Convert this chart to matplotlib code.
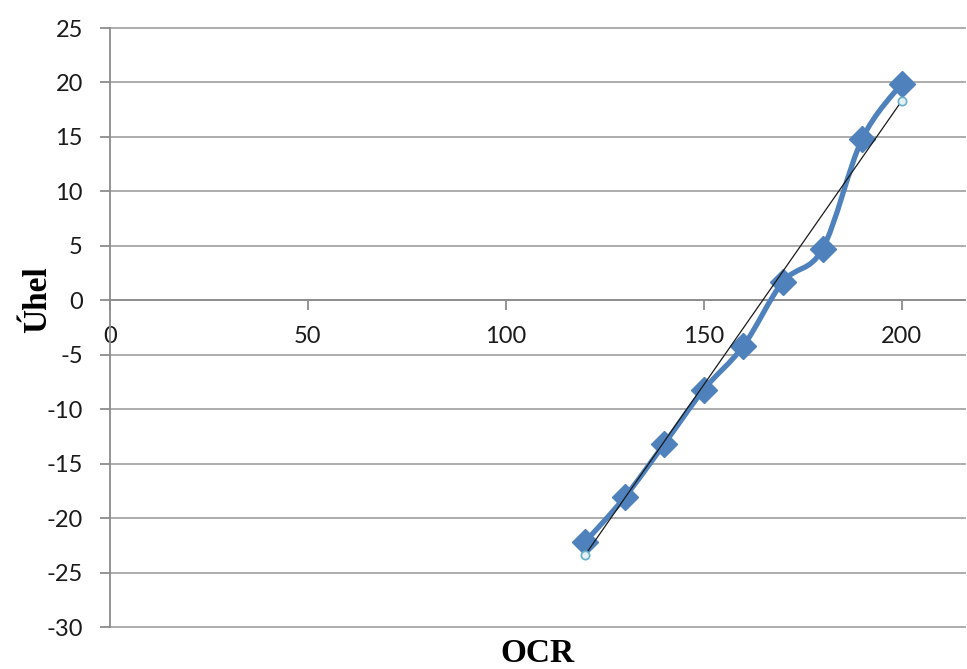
import numpy as np
import matplotlib
matplotlib.use("Agg")
import matplotlib.pyplot as plt
from matplotlib.path import Path
from matplotlib.patches import PathPatch

# Measured values
ocr = [120, 130, 140, 150, 160, 170, 180, 190, 200]
uhel = [-22.2, -18.1, -13.2, -8.2, -4.2, 1.7, 4.7, 14.8, 19.9]

# Linear trend endpoints
trend_x = [120, 200]
trend_y = [-23.4, 18.3]

x_ticks = [0, 50, 100, 150, 200]
y_ticks = [-30, -25, -20, -15, -10, -5, 0, 5, 10, 15, 20, 25]

W, H = 967, 669
fig = plt.figure(figsize=(W / 100, H / 100), dpi=100)
ax = fig.add_axes([110 / W, 1 - 627 / H, (965 - 110) / W, (627 - 28) / H])

ax.set_xlim(0, 216)
ax.set_ylim(-30, 25)

grid_c = "#A6A6A6"
axis_c = "#8C8C8C"
for yv in y_ticks:
    ax.axhline(yv, color=grid_c, lw=1.3, zorder=0.5, clip_on=False)

for s in ["top", "right"]:
    ax.spines[s].set_visible(False)
ax.spines["bottom"].set_position(("data", 0))
ax.spines["left"].set_color(axis_c)
ax.spines["bottom"].set_color(axis_c)
ax.spines["left"].set_linewidth(1.3)
ax.spines["bottom"].set_linewidth(1.3)

ax.set_xticks(x_ticks)
ax.set_yticks(y_ticks)
ax.set_xticklabels([str(v) for v in x_ticks])
ax.set_yticklabels([str(v) for v in y_ticks])
ax.tick_params(axis="both", direction="out", length=7.5, width=1.3, color=axis_c,
               labelsize=17, labelcolor="#1a1a1a")
ax.tick_params(axis="y", pad=12)
ax.tick_params(axis="x", pad=11)
for lab in ax.get_xticklabels() + ax.get_yticklabels():
    lab.set_family(["Lato", "DejaVu Sans"])

# Smoothed series line (Catmull-Rom style cubic Beziers through the data)
xs = np.array(ocr, float)
ys = np.array(uhel, float)
n = len(xs)
verts = [(xs[0], ys[0])]
codes = [Path.MOVETO]
t = 1.0 / 6.0
for i in range(n - 1):
    p0 = (xs[max(i - 1, 0)], ys[max(i - 1, 0)])
    p1 = (xs[i], ys[i])
    p2 = (xs[i + 1], ys[i + 1])
    p3 = (xs[min(i + 2, n - 1)], ys[min(i + 2, n - 1)])
    c1 = (p1[0] + (p2[0] - p0[0]) * t, p1[1] + (p2[1] - p0[1]) * t)
    c2 = (p2[0] - (p3[0] - p1[0]) * t, p2[1] - (p3[1] - p1[1]) * t)
    verts += [c1, c2, p2]
    codes += [Path.CURVE4] * 3
blue = "#4F81BD"
ax.add_patch(PathPatch(Path(verts, codes), facecolor="none", edgecolor=blue,
                       lw=3.8, capstyle="round", joinstyle="round", zorder=3))
ax.plot(ocr, uhel, linestyle="none", marker="D", markersize=13,
        markerfacecolor=blue, markeredgecolor=blue, zorder=4)

# Trend line
ax.plot(trend_x, trend_y, color="#1a1a1a", lw=0.9, zorder=5,
        marker="o", markersize=6, markerfacecolor="#E4F1F7",
        markeredgecolor="#6AAFC8", markeredgewidth=1.2)

fig.text(537 / W, 1 - 653 / H, "OCR", ha="center", va="center",
         family="Liberation Serif", weight="bold", fontsize=24)
fig.text(38 / W, 1 - 300 / H, "Úhel", ha="center", va="center", rotation=90,
         family="Liberation Serif", weight="bold", fontsize=24)

fig.savefig("out.png", dpi=100)
